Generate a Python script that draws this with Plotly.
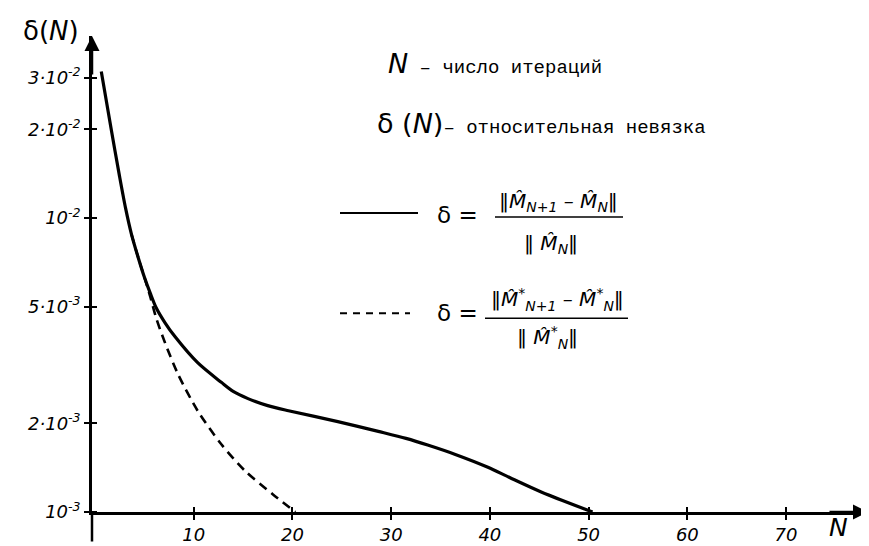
import plotly.graph_objects as go

# ---- data ----
N_solid = [0.64, 1.65, 2.5, 3.1, 3.7, 4.4, 5.0, 5.6, 6.2, 7.1, 8.1, 10.4, 12.8, 14.0, 15.5,
           17.5, 19.6, 24.6, 28.7, 31.5, 33.7, 36.5, 39.8, 42.0, 45.2, 50.4]
delta_solid = [3.15e-2, 2.0e-2, 1.38e-2, 1.08e-2, 8.8e-3, 7.3e-3, 6.3e-3, 5.55e-3, 4.95e-3,
               4.4e-3, 3.95e-3, 3.22e-3, 2.76e-3, 2.57e-3, 2.43e-3, 2.30e-3, 2.21e-3,
               2.03e-3, 1.88e-3, 1.78e-3, 1.69e-3, 1.57e-3, 1.42e-3, 1.31e-3, 1.17e-3, 1.0e-3]

N_dashed = [3.7, 4.4, 5.0, 5.6, 6.2, 7.1, 8.4, 10.4, 12.8, 15.2, 18.0, 20.3]
delta_dashed = [8.8e-3, 7.3e-3, 6.3e-3, 5.4e-3, 4.57e-3, 3.76e-3, 2.95e-3, 2.21e-3,
                1.70e-3, 1.38e-3, 1.15e-3, 1.0e-3]

x_tickvals = [10, 20, 30, 40, 50, 60, 70]
x_ticktext = ["<i>10</i>", "<i>20</i>", "<i>30</i>", "<i>40</i>", "<i>50</i>", "<i>60</i>", "<i>70</i>"]
y_tickvals = [0.03, 0.02, 0.01, 0.005, 0.002, 0.001]
y_ticktext = ["<i>3·10<sup>-2</sup></i>", "<i>2·10<sup>-2</sup></i>", "<i>10<sup>-2</sup></i>",
              "<i>5·10<sup>-3</sup></i>", "<i>2·10<sup>-3</sup></i>", "<i>10<sup>-3</sup></i>"]

# ---- layout geometry (pixels) ----
W, H = 869, 546
L, R, T, B = 84, 9, 28, 34
PW, PH = W - L - R, H - T - B


def px(x):
    return (x - L) / PW


def py(y):
    return (H - B - y) / PH


HAND = "DejaVu Sans"
TYPE = "Liberation Mono"

fig = go.Figure()
fig.add_trace(go.Scatter(x=N_solid, y=delta_solid, mode="lines", name="solid",
                         line=dict(color="black", width=3.2, shape="spline", smoothing=0.8),
                         showlegend=False))
fig.add_trace(go.Scatter(x=N_dashed, y=delta_dashed, mode="lines", name="dashed",
                         line=dict(color="black", width=2.6, dash="9px,6px", shape="spline",
                                   smoothing=0.8),
                         showlegend=False))

shapes = [
    # y axis continuing below origin
    dict(type="line", xref="paper", yref="paper", x0=0, x1=0, y0=0, y1=py(542),
         line=dict(color="black", width=2.5)),
    # legend samples
    dict(type="line", xref="paper", yref="paper", x0=px(332), x1=px(410), y0=py(208), y1=py(208),
         line=dict(color="black", width=2)),
    dict(type="line", xref="paper", yref="paper", x0=px(332), x1=px(402), y0=py(310), y1=py(310),
         line=dict(color="black", width=2, dash="7px,6px")),
    # fraction bars
    dict(type="line", xref="paper", yref="paper", x0=px(487), x1=px(615), y0=py(212), y1=py(212),
         line=dict(color="black", width=1.5)),
    dict(type="line", xref="paper", yref="paper", x0=px(477), x1=px(620), y0=py(315), y1=py(315),
         line=dict(color="black", width=1.5)),
]


def note(x, y, text, size, family=HAND, xanchor="center"):
    return dict(xref="paper", yref="paper", x=px(x), y=py(y), text=text, showarrow=False,
                xanchor=xanchor, yanchor="middle",
                font=dict(family=family, size=size, color="black"))


ann = []
# axis arrows
ann.append(dict(xref="paper", yref="paper", x=0, y=1, ax=0, ay=40, text="", showarrow=True,
                arrowhead=2, arrowsize=1.2, arrowwidth=2.5, arrowcolor="black"))
ann.append(dict(xref="paper", yref="paper", x=1, y=0, ax=-40, ay=0, text="", showarrow=True,
                arrowhead=2, arrowsize=1.2, arrowwidth=2.5, arrowcolor="black"))
# axis titles
ann.append(note(43, 23, "δ(<i>N</i>)", 26))
ann.append(note(830, 528, "<i>N</i>", 25))
# description texts
ann.append(note(378, 56,
                '<span style="font-family:DejaVu Sans;font-size:27px"><i>N</i></span> – число итераций',
                19, TYPE, "left"))
ann.append(note(367, 117,
                '<span style="font-family:DejaVu Sans;font-size:27px">δ (<i>N</i>)</span>– относительная невязка',
                19, TYPE, "left"))
# formula 1
ann.append(note(449, 210, "δ =", 23))
ann.append(note(550, 197, "<i>‖M̂<sub>N+1</sub> – M̂<sub>N</sub>‖</i>", 20))
ann.append(note(543, 240, "<i>‖ M̂<sub>N</sub>‖</i>", 20))
# formula 2
ann.append(note(449, 310, "δ =", 23))
ann.append(note(549, 296, "<i>‖M̂<sup>*</sup><sub>N+1</sub> – M̂<sup>*</sup><sub>N</sub>‖</i>", 20))
ann.append(note(539, 335, "<i>‖ M̂<sup>*</sup><sub>N</sub>‖</i>", 20))

fig.update_layout(
    width=W, height=H,
    margin=dict(l=L, r=R, t=T, b=B),
    paper_bgcolor="white", plot_bgcolor="white",
    shapes=shapes, annotations=ann,
    xaxis=dict(range=[-0.3, 78.3], showline=True, linecolor="black", linewidth=2.5,
               showgrid=False, zeroline=False, tickvals=x_tickvals, ticktext=x_ticktext,
               ticks="outside", ticklen=5, tickwidth=2, tickcolor="black",
               minor=dict(tickvals=x_tickvals, ticks="inside", ticklen=5, tickwidth=2,
                          tickcolor="black", showgrid=False),
               tickfont=dict(family=HAND, size=18, color="black")),
    yaxis=dict(type="log", range=[-3, -1.381], showline=True, linecolor="black", linewidth=2.5,
               showgrid=False, zeroline=False, tickvals=y_tickvals, ticktext=y_ticktext,
               ticks="outside", ticklen=5, tickwidth=2, tickcolor="black",
               minor=dict(tickvals=y_tickvals, ticks="inside", ticklen=5, tickwidth=2,
                          tickcolor="black", showgrid=False),
               tickfont=dict(family=HAND, size=18, color="black")),
)

fig.write_html("out.html")
